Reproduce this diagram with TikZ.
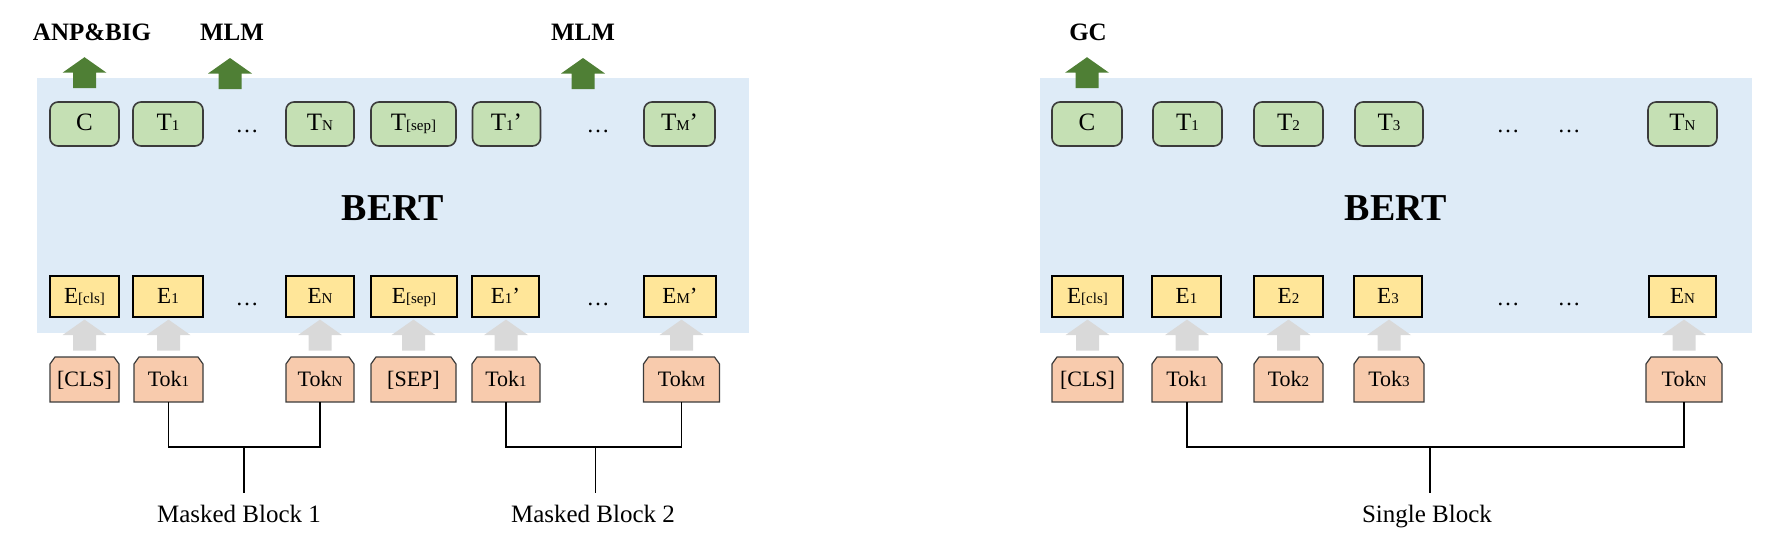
\documentclass[tikz,border=0pt]{standalone}
\usepackage{fontspec}
\setmainfont{Liberation Serif}
\usetikzlibrary{calc}
\definecolor{bertbg}{HTML}{DEEBF7}
\definecolor{tgreen}{HTML}{C5E0B4}
\definecolor{eyellow}{HTML}{FFE699}
\definecolor{torange}{HTML}{F8CBAD}
\definecolor{darrow}{HTML}{4F7F35}
\definecolor{larrow}{HTML}{D9D9D9}
\definecolor{bordergray}{HTML}{3B3B3B}
\newcommand{\ssub}[1]{{\fontsize{7.5}{8}\selectfont #1}}
\newcommand{\upblock}[3]{%
  \fill[#3] let \p1=(#1), \p2=(#2) in
   (\x1-5.75pt,\y1) -- (\x1-5.75pt,\y2-7.75pt) -- (\x1-11pt,\y2-7.75pt) -- (\x1,\y2)
   -- (\x1+11pt,\y2-7.75pt) -- (\x1+5.75pt,\y2-7.75pt) -- (\x1+5.75pt,\y1) -- cycle;}
\newcommand{\tokbox}[4]{% name, cx, width, text
  \draw[tokshape] ({#2-#3/2},402) -- ({#2-#3/2},364) -- ({#2-#3/2+5},357) -- ({#2+#3/2-5},357)
     -- ({#2+#3/2},364) -- ({#2+#3/2},402) -- cycle;
  \node[toktext, minimum width=#3*0.5pt] (#1) at (#2,379.5) {#4};}
\tikzset{
  bertbox/.style={fill=bertbg, draw=none},
  tbox/.style={draw=bordergray, line width=0.8pt, fill=tgreen, rounded corners=4pt,
    minimum height=22pt, inner sep=0pt, font=\fontsize{12.5}{13}\selectfont,
    text height=0.66em, text depth=0pt},
  ebox/.style={draw=black, line width=0.6pt, fill=eyellow, minimum height=20.5pt,
    inner sep=0pt, font=\fontsize{11.5}{12}\selectfont, text height=0.66em, text depth=0pt},
  tokshape/.style={draw=bordergray, line width=0.6pt, fill=torange},
  toktext/.style={inner sep=0pt, minimum height=22.5pt, font=\fontsize{11}{12}\selectfont,
    text height=0.66em, text depth=0pt},
  dotsn/.style={anchor=base, inner sep=0pt, font=\fontsize{11.5}{12}\selectfont},
  tasklbl/.style={anchor=base, inner sep=0pt, font=\fontsize{12.5}{14}\selectfont\bfseries},
  bertlbl/.style={anchor=base, inner sep=0pt, font=\fontsize{19}{22}\selectfont\bfseries},
  blocklbl/.style={anchor=base, inner sep=0pt, font=\fontsize{12.5}{14}\selectfont},
  brk/.style={draw=black, line width=0.55pt}
}
\begin{document}
\begin{tikzpicture}[x=0.5pt,y=-0.5pt]
\useasboundingbox (0,0) rectangle (1769,543);
% backgrounds
\path[bertbox] (37,78) rectangle (749,333);
\path[bertbox] (1040,78) rectangle (1752,333);
\node[bertlbl] (bertL) at (393,220) {BERT};
\node[bertlbl] (bertR) at (1396,220) {BERT};

% ---------- left panel ----------
% output row
\node[tbox, minimum width=34.5pt] (LtC) at (84.5,124) {C};
\node[tbox, minimum width=35pt] (Lt1) at (168,124) {T\ssub{1}};
\node[dotsn] (Ltd1) at (247,132) {\ldots};
\node[tbox, minimum width=34pt] (LtN) at (320,124) {T\ssub{N}};
\node[tbox, minimum width=42.5pt] (Ltsep) at (413.5,124) {T\ssub{[sep]}};
\node[tbox, minimum width=34pt] (Lt1p) at (506.5,124) {T\ssub{1}’};
\node[dotsn] (Ltd2) at (598,132) {\ldots};
\node[tbox, minimum width=35.5pt] (LtMp) at (679.5,124) {T\ssub{M}’};
% embedding row
\node[ebox, minimum width=34.5pt] (LeC) at (84.5,296.5) {E\ssub{[cls]}};
\node[ebox, minimum width=35pt] (Le1) at (168,296.5) {E\ssub{1}};
\node[dotsn] (Led1) at (247,305) {\ldots};
\node[ebox, minimum width=34pt] (LeN) at (320,296.5) {E\ssub{N}};
\node[ebox, minimum width=43pt] (Lesep) at (414,296.5) {E\ssub{[sep]}};
\node[ebox, minimum width=33.5pt] (Le1p) at (505.5,296.5) {E\ssub{1}’};
\node[dotsn] (Led2) at (598,305) {\ldots};
\node[ebox, minimum width=36pt] (LeMp) at (680,296.5) {E\ssub{M}’};
% token row
\tokbox{LkC}{84.5}{69}{[CLS]}
\tokbox{Lk1}{168.5}{69}{Tok\ssub{1}}
\tokbox{LkN}{320}{68}{Tok\ssub{N}}
\tokbox{Lksep}{413.5}{85}{[SEP]}
\tokbox{Lk1p}{506}{68}{Tok\ssub{1}}
\tokbox{LkM}{681.5}{76}{Tok\ssub{M}}
% gray arrows
\foreach \k/\e in {LkC/LeC, Lk1/Le1, LkN/LeN, Lksep/Lesep, Lk1p/Le1p, LkM/LeMp}{
  \upblock{[yshift=3pt]\k.north}{[yshift=-1pt]\e.south}{larrow}
}
% green arrows and task labels
\upblock{[yshift=6.5pt]LtC.north}{[yshift=22pt]LtC.north}{darrow}
\coordinate (Lg2) at (230,89);
\coordinate (Lg2t) at (230,58);
\upblock{Lg2}{Lg2t}{darrow}
\coordinate (Lg3) at (583,89);
\coordinate (Lg3t) at (583,58);
\upblock{Lg3}{Lg3t}{darrow}
\node[tasklbl] (anp) at (92,40) {ANP\&BIG};
\node[tasklbl] (mlm1) at (232,40) {MLM};
\node[tasklbl] (mlm2) at (583,40) {MLM};
% brackets
\coordinate (Lj1) at (244,447);
\coordinate (Lj1b) at (244,493);
\draw[brk] (Lk1.south) |- (Lj1) -| (LkN.south);
\draw[brk] (Lj1) -- (Lj1b);
\node[blocklbl] (mb1) at (239,522) {Masked Block 1};
\coordinate (Lj2) at (595.5,447);
\coordinate (Lj2b) at (595.5,493);
\draw[brk] (Lk1p.south) |- (Lj2) -| (LkM.south);
\draw[brk] (Lj2) -- (Lj2b);
\node[blocklbl] (mb2) at (593,522) {Masked Block 2};

% ---------- right panel ----------
\node[tbox, minimum width=35pt] (RtC) at (1087,124) {C};
\node[tbox, minimum width=34.5pt] (Rt1) at (1187.5,124) {T\ssub{1}};
\node[tbox, minimum width=34.5pt] (Rt2) at (1288.5,124) {T\ssub{2}};
\node[tbox, minimum width=34pt] (Rt3) at (1389,124) {T\ssub{3}};
\node[dotsn] (Rtd1) at (1508,132) {\ldots};
\node[dotsn] (Rtd2) at (1569,132) {\ldots};
\node[tbox, minimum width=34.5pt] (RtN) at (1682.5,124) {T\ssub{N}};
\node[ebox, minimum width=35.5pt] (ReC) at (1087.5,296.5) {E\ssub{[cls]}};
\node[ebox, minimum width=34.5pt] (Re1) at (1186.5,296.5) {E\ssub{1}};
\node[ebox, minimum width=34.5pt] (Re2) at (1288.5,296.5) {E\ssub{2}};
\node[ebox, minimum width=34pt] (Re3) at (1388,296.5) {E\ssub{3}};
\node[dotsn] (Red1) at (1508,305) {\ldots};
\node[dotsn] (Red2) at (1569,305) {\ldots};
\node[ebox, minimum width=33.5pt] (ReN) at (1682.5,296.5) {E\ssub{N}};
\tokbox{RkC}{1087.5}{71}{[CLS]}
\tokbox{Rk1}{1187}{70}{Tok\ssub{1}}
\tokbox{Rk2}{1288.5}{69}{Tok\ssub{2}}
\tokbox{Rk3}{1389}{70}{Tok\ssub{3}}
\tokbox{RkN}{1684}{76}{Tok\ssub{N}}
\foreach \k/\e in {RkC/ReC, Rk1/Re1, Rk2/Re2, Rk3/Re3, RkN/ReN}{
  \upblock{[yshift=3pt]\k.north}{[yshift=-1pt]\e.south}{larrow}
}
\upblock{[yshift=6.5pt]RtC.north}{[yshift=22pt]RtC.north}{darrow}
\node[tasklbl] (gc) at (1088,40) {GC};
\coordinate (Rj) at (1430,447);
\coordinate (Rjb) at (1430,493);
\draw[brk] (Rk1.south) |- (Rj) -| (RkN.south);
\draw[brk] (Rj) -- (Rjb);
\node[blocklbl] (sb) at (1427,522) {Single Block};
\end{tikzpicture}
\end{document}
